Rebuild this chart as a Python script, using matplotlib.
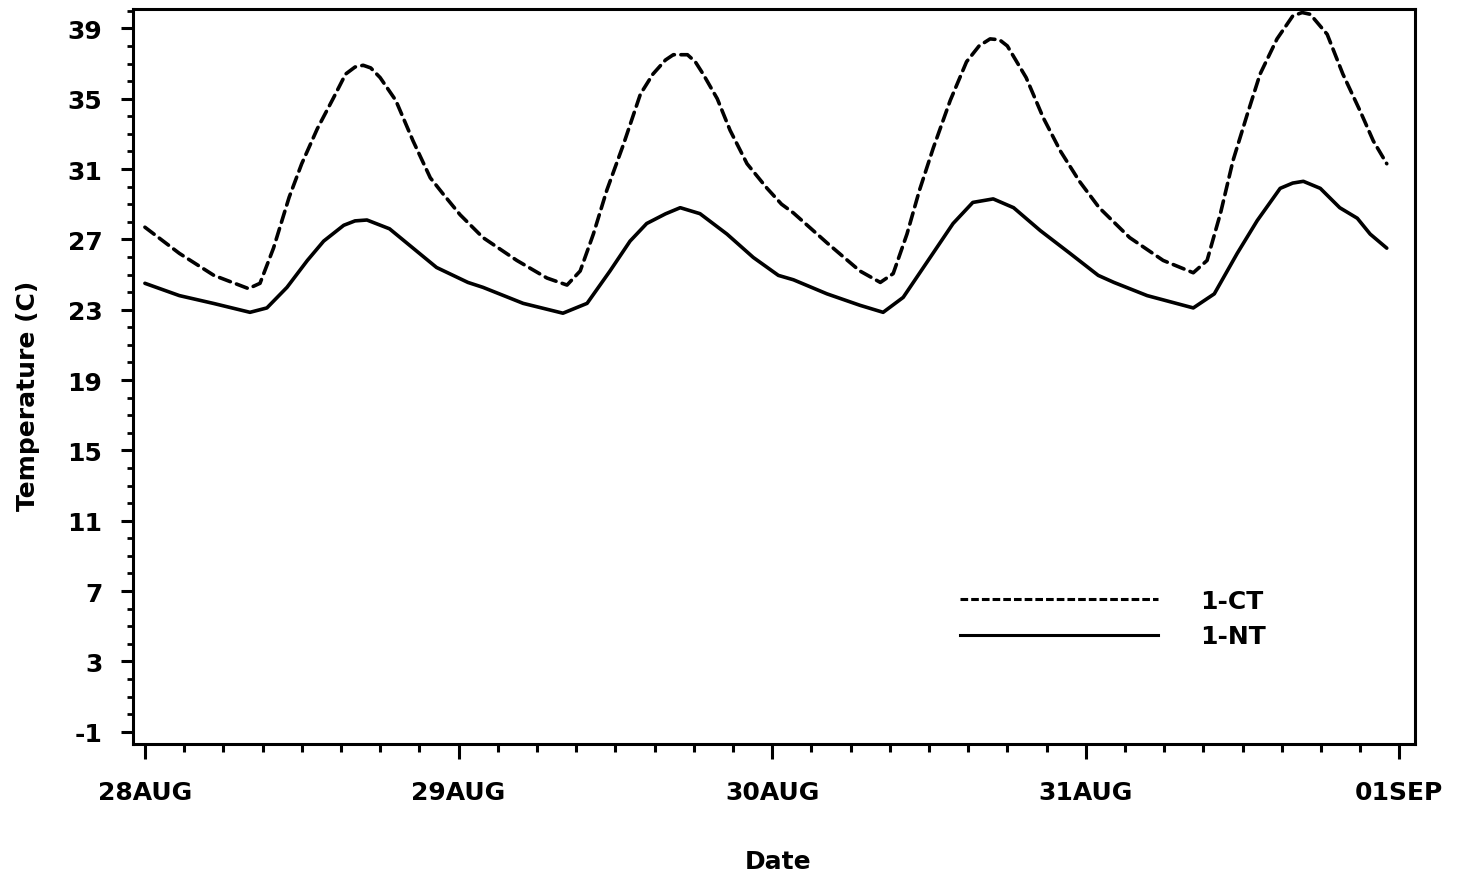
import matplotlib
matplotlib.use("Agg")
import matplotlib.pyplot as plt
from matplotlib.ticker import MultipleLocator, FixedLocator
from matplotlib.lines import Line2D

# ---- data (day offset from 28AUG 00:00, temperature in C) ----
ct_days = [0.00, 0.11, 0.22, 0.33, 0.367, 0.41, 0.46, 0.50, 0.55, 0.60, 0.64, 0.67,
           0.696, 0.72, 0.75, 0.80, 0.855, 0.91, 0.95, 1.005, 1.078, 1.186, 1.282,
           1.346, 1.388, 1.43, 1.473, 1.526, 1.58, 1.62, 1.66, 1.685, 1.73, 1.755,
           1.78, 1.825, 1.866, 1.92, 1.984, 2.03, 2.068, 2.175, 2.28, 2.345, 2.386,
           2.43, 2.47, 2.514, 2.568, 2.62, 2.66, 2.695, 2.725, 2.75, 2.81, 2.865,
           2.92, 2.98, 3.043, 3.14, 3.247, 3.343, 3.387, 3.43, 3.47, 3.515, 3.556,
           3.61, 3.66, 3.69, 3.716, 3.77, 3.82, 3.875, 3.917, 3.96]
ct_vals = [27.69, 26.2, 24.95, 24.2, 24.5, 26.5, 29.4, 31.3, 33.3, 35.0, 36.4, 36.8,
           36.9, 36.75, 36.2, 34.9, 32.6, 30.5, 29.6, 28.4, 27.1, 25.8, 24.8,
           24.4, 25.2, 27.3, 29.8, 32.4, 35.26, 36.4, 37.2, 37.5, 37.5, 37.1,
           36.4, 35.0, 33.2, 31.3, 29.9, 29.0, 28.5, 26.8, 25.2, 24.55, 25.05,
           27.3, 29.8, 32.2, 34.9, 37.1, 38.0, 38.4, 38.35, 38.0, 36.2, 33.9,
           32.0, 30.3, 28.8, 27.1, 25.8, 25.1, 25.8, 28.5, 31.5, 34.1, 36.4,
           38.4, 39.7, 39.9, 39.8, 38.66, 36.4, 34.3, 32.6, 31.3]

nt_days = [0.00, 0.11, 0.22, 0.335, 0.389, 0.453, 0.518, 0.57, 0.634, 0.67, 0.708,
           0.78, 0.855, 0.93, 1.03, 1.078, 1.206, 1.333, 1.41, 1.483, 1.547, 1.60,
           1.66, 1.707, 1.77, 1.856, 1.94, 2.02, 2.068, 2.175, 2.28, 2.354, 2.418,
           2.504, 2.577, 2.64, 2.705, 2.77, 2.855, 2.95, 3.04, 3.09, 3.196, 3.343,
           3.41, 3.483, 3.547, 3.62, 3.66, 3.694, 3.748, 3.81, 3.866, 3.907, 3.96]
nt_vals = [24.5, 23.8, 23.35, 22.85, 23.1, 24.27, 25.8, 26.9, 27.8, 28.05, 28.1,
           27.6, 26.5, 25.4, 24.55, 24.27, 23.36, 22.8, 23.36, 25.2, 26.9, 27.9,
           28.45, 28.8, 28.46, 27.3, 25.97, 24.95, 24.7, 23.9, 23.25, 22.85, 23.7,
           25.97, 27.9, 29.1, 29.3, 28.8, 27.5, 26.2, 24.95, 24.55, 23.8, 23.1,
           23.9, 26.2, 28.07, 29.9, 30.2, 30.3, 29.9, 28.8, 28.2, 27.3, 26.5]

x_tick_pos = [0, 1, 2, 3, 4]
x_tick_labels = ["28AUG", "29AUG", "30AUG", "31AUG", "01SEP"]
y_tick_pos = [-1, 3, 7, 11, 15, 19, 23, 27, 31, 35, 39]
series_labels = ["1-CT", "1-NT"]

# ---- figure ----
plt.rcParams['font.family'] = ['DejaVu Sans']
plt.rcParams['font.weight'] = 'bold'
fs = 18

fig = plt.figure(figsize=(14.64, 8.78), dpi=100)
ax = fig.add_axes([133/1464, 1-745/878, (1415-133)/1464, (745-10)/878])

ax.plot(ct_days, ct_vals, color='black', lw=2.6, dashes=(3.2, 1.8),
        solid_joinstyle='round', dash_joinstyle='round', dash_capstyle='round')
ax.plot(nt_days, nt_vals, color='black', lw=2.6, solid_joinstyle='round',
        solid_capstyle='round')

ax.set_xlim(-0.038, 4.05)
ax.set_ylim(-1.7, 40.1)

ax.set_xticks(x_tick_pos)
ax.set_xticklabels(x_tick_labels, fontsize=fs, fontweight='bold')
ax.xaxis.set_minor_locator(MultipleLocator(0.125))
ax.set_yticks(y_tick_pos)
ax.set_yticklabels([str(v) for v in y_tick_pos], fontsize=fs, fontweight='bold')
ax.yaxis.set_minor_locator(FixedLocator(list(range(-1, 41))))

ax.tick_params(axis='x', which='major', direction='out', length=11, width=2.2, pad=15)
ax.tick_params(axis='x', which='minor', direction='out', length=6, width=2.2)
ax.tick_params(axis='y', which='major', direction='out', length=9, width=2.2, pad=13)
ax.tick_params(axis='y', which='minor', direction='out', length=4.5, width=2.0)

for s in ax.spines.values():
    s.set_linewidth(2.2)

ax.set_xlabel("Date", fontsize=fs, fontweight='bold')
ax.xaxis.set_label_coords((778-133)/1282, (745-850)/735)
ax.set_ylabel("Temperature (C)", fontsize=fs, fontweight='bold')
ax.yaxis.set_label_coords((40-133)/1282, 1-(396-10)/735)

handles = [Line2D([], [], color='black', lw=2.2, dashes=(2.5, 1.0)),
           Line2D([], [], color='black', lw=2.2)]
leg = ax.legend(handles, series_labels, loc='upper left',
                bbox_to_anchor=((960-133)/1282, (745-590)/735),
                frameon=False, fontsize=fs, handlelength=7.9, handletextpad=1.7,
                labelspacing=0.45, borderpad=0, borderaxespad=0)
for t in leg.get_texts():
    t.set_fontweight('bold')

fig.savefig("out.png", dpi=100, facecolor='white')
